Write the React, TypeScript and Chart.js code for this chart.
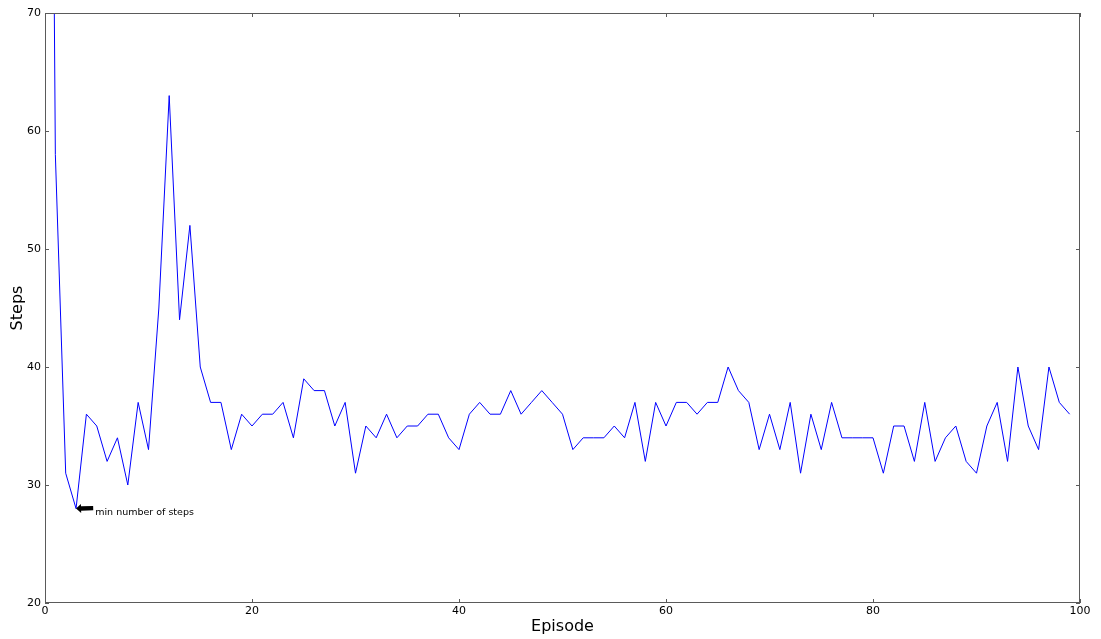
import React, { useEffect, useRef } from "react";
import { Chart, registerables } from "chart.js";

Chart.register(...registerables);

// Steps per episode (episode 0 is far above the visible range)
const steps: number[] = [
  180, 58, 31, 28, 36, 35, 32, 34, 30, 37,
  33, 45, 63, 44, 52, 40, 37, 37, 33, 36,
  35, 36, 36, 37, 34, 39, 38, 38, 35, 37,
  31, 35, 34, 36, 34, 35, 35, 36, 36, 34,
  33, 36, 37, 36, 36, 38, 36, 37, 38, 37,
  36, 33, 34, 34, 34, 35, 34, 37, 32, 37,
  35, 37, 37, 36, 37, 37, 40, 38, 37, 33,
  36, 33, 37, 31, 36, 33, 37, 34, 34, 34,
  34, 31, 35, 35, 32, 37, 32, 34, 35, 32,
  31, 35, 37, 32, 40, 35, 33, 40, 37, 36,
];
const episodes: number[] = steps.map((_, i) => i);

const xTicks: number[] = [0, 20, 40, 60, 80, 100];
const yTicks: number[] = [20, 30, 40, 50, 60, 70];

const annotationText = "min number of steps";
const annotationPoint = { x: 3, y: 28 };
const annotationTextPos = { x: 4.85, y: 27.7 };

const FONT = "'DejaVu Sans', sans-serif";

const framePlugin = {
  id: "framePlugin",
  afterDatasetsDraw(chart: any) {
    const { ctx, chartArea, scales } = chart;
    const xs = scales.x;
    const ys = scales.y;
    const { left, right, top, bottom } = chartArea;
    ctx.save();
    // frame
    ctx.strokeStyle = "#5a5a5a";
    ctx.lineWidth = 1;
    ctx.strokeRect(left + 0.5, top + 0.5, right - left - 1, bottom - top - 1);
    // inward ticks
    ctx.beginPath();
    const tl = 4;
    xTicks.forEach((v) => {
      const px = Math.round(xs.getPixelForValue(v)) + 0.5;
      ctx.moveTo(px, bottom);
      ctx.lineTo(px, bottom - tl);
      ctx.moveTo(px, top);
      ctx.lineTo(px, top + tl);
    });
    yTicks.forEach((v) => {
      const py = Math.round(ys.getPixelForValue(v)) + 0.5;
      ctx.moveTo(left, py);
      ctx.lineTo(left + tl, py);
      ctx.moveTo(right, py);
      ctx.lineTo(right - tl, py);
    });
    ctx.stroke();

    // annotation
    const tipX = xs.getPixelForValue(annotationPoint.x);
    const tipY = ys.getPixelForValue(annotationPoint.y);
    const tx = xs.getPixelForValue(annotationTextPos.x);
    const ty = ys.getPixelForValue(annotationTextPos.y);
    ctx.fillStyle = "#000000";
    ctx.font = `9.5px ${FONT}`;
    ctx.textAlign = "left";
    ctx.textBaseline = "middle";
    ctx.fillText(annotationText, tx, ty);

    // arrow from text to point
    const tailX = tx - 2;
    const tailY = ty - 4;
    const ang = Math.atan2(tipY - tailY, tipX - tailX);
    const len = Math.hypot(tipX - tailX, tipY - tailY);
    ctx.translate(tipX, tipY);
    ctx.rotate(ang + Math.PI);
    const headLen = 5;
    const headW = 4.5;
    const shaftW = 2.2;
    ctx.beginPath();
    ctx.moveTo(0, 0);
    ctx.lineTo(headLen, -headW);
    ctx.lineTo(headLen, -shaftW);
    ctx.lineTo(len, -shaftW);
    ctx.lineTo(len, shaftW);
    ctx.lineTo(headLen, shaftW);
    ctx.lineTo(headLen, headW);
    ctx.closePath();
    ctx.fill();
    ctx.restore();
  },
};

export default function App() {
  const canvasRef = useRef<HTMLCanvasElement | null>(null);

  useEffect(() => {
    document.body.style.margin = "0";
    const canvas = canvasRef.current;
    if (!canvas) return;
    const chart = new Chart(canvas, {
      type: "line",
      data: {
        datasets: [
          {
            data: episodes.map((e, i) => ({ x: e, y: steps[i] })),
            borderColor: "#0000ff",
            borderWidth: 1,
            pointRadius: 0,
            tension: 0,
            fill: false,
          },
        ],
      },
      options: {
        animation: false,
        responsive: false,
        devicePixelRatio: 1,
        layout: { padding: { top: 13, right: 21, left: 0, bottom: 0 } },
        plugins: {
          legend: { display: false },
          tooltip: { enabled: false },
        },
        scales: {
          x: {
            type: "linear",
            min: 0,
            max: 100,
            afterBuildTicks: (scale: any) => {
              scale.ticks = xTicks.map((v) => ({ value: v }));
            },
            ticks: {
              color: "#000000",
              font: { family: FONT, size: 11 },
              padding: 2,
              maxRotation: 0,
            },
            grid: { display: false, drawTicks: false },
            border: { display: false },
            title: {
              display: true,
              text: "Episode",
              color: "#000000",
              font: { family: FONT, size: 16 },
              padding: { top: 0, bottom: 3 },
            },
            afterFit: (scale: any) => {
              scale.height = 36;
            },
          },
          y: {
            type: "linear",
            min: 20,
            max: 70,
            afterBuildTicks: (scale: any) => {
              scale.ticks = yTicks.map((v) => ({ value: v }));
            },
            ticks: {
              color: "#000000",
              font: { family: FONT, size: 11 },
              padding: 4,
            },
            grid: { display: false, drawTicks: false },
            border: { display: false },
            title: {
              display: true,
              text: "Steps",
              color: "#000000",
              font: { family: FONT, size: 16 },
              padding: { top: 8, bottom: 0 },
            },
            afterFit: (scale: any) => {
              scale.width = 45;
            },
          },
        },
      },
      plugins: [framePlugin],
    } as any);
    return () => chart.destroy();
  }, []);

  return (
    <div style={{ position: "absolute", left: 0, top: 0, width: 1101, height: 639 }}>
      <canvas ref={canvasRef} width={1101} height={639} style={{ display: "block" }} />
    </div>
  );
}
